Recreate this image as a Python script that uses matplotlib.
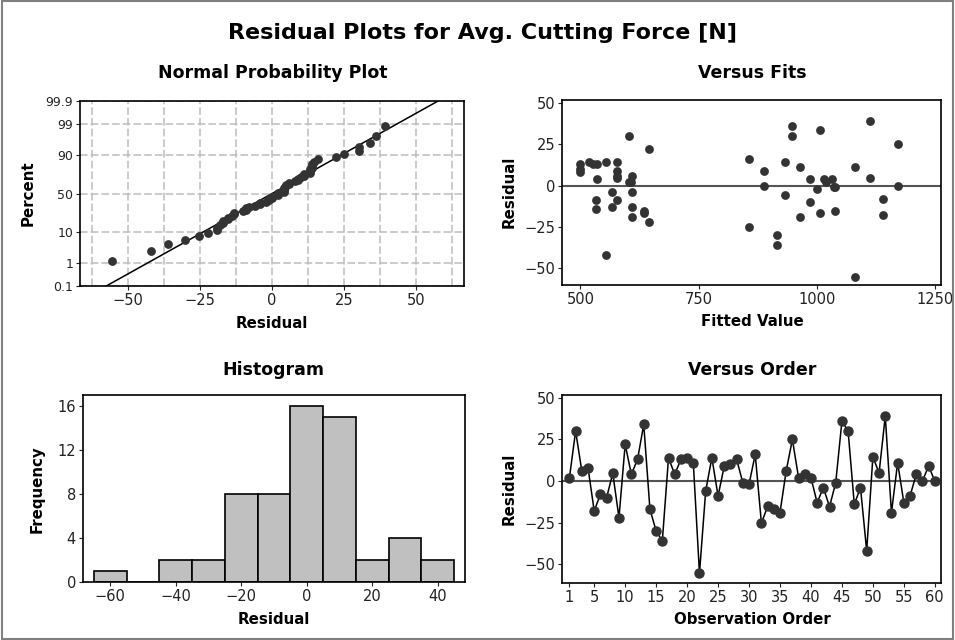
from statistics import NormalDist

import matplotlib
matplotlib.use('Agg')
import matplotlib.pyplot as plt
import numpy as np
from matplotlib.patches import Rectangle

# Residuals in observation order
residuals = [2, 30, 6, 8, -18, -8, -10, 4.6, -22, 22,
             4, 13, 34, -17, -30, -36, 14, 4, 13, 14,
             11, -55.5, -6, 14, -9, 9, 10, 13, -1, -2,
             16, -25.3, -15.3, -17, -19, 6, 25, 2, 4, 2,
             -13, -4, -15.4, -1, 36, 30, -14, -4, -42, 14.6,
             4.8, 39, -19, 11, -13, -9, 4, 0, 9, 0]

fitted = [602, 602, 609, 500, 1140, 1140, 986, 578, 644, 644,
          1032, 500, 1007, 1007, 916, 916, 578, 535, 527, 518,
          965, 1080, 933, 553, 532, 888, 500, 536, 1039, 1000,
          856, 856, 634, 634, 965, 578, 1171, 1018, 986, 606,
          609, 567, 1039, 1035, 947, 947, 532, 609, 553, 933,
          1111, 1111, 609, 1080, 567, 578, 1014, 888, 578, 1171]

observations = list(range(1, 61))
prob_ticks = [0.1, 1, 10, 50, 90, 99, 99.9]
hist_bins = [-65, -55, -45, -35, -25, -15, -5, 5, 15, 25, 35, 45]

DOT = '#333333'
plt.rcParams['font.family'] = 'DejaVu Sans'
plt.rcParams['axes.linewidth'] = 1.2
plt.rcParams['xtick.labelsize'] = 10.5
plt.rcParams['ytick.labelsize'] = 10.5
plt.rcParams['xtick.major.size'] = 3
plt.rcParams['ytick.major.size'] = 3
plt.rcParams['xtick.color'] = '#222222'
plt.rcParams['ytick.color'] = '#222222'

W, H = 955, 640
fig = plt.figure(figsize=(W / 100, H / 100), dpi=100)


def add_axes(left, top, right, bottom):
    return fig.add_axes([left / W, 1 - bottom / H, (right - left) / W, (bottom - top) / H])


ax_np = add_axes(80, 101, 464, 286)
ax_vf = add_axes(562, 100, 941, 285)
ax_hi = add_axes(83, 395, 465, 582)
ax_vo = add_axes(562, 395, 941, 583)

for ax in (ax_np, ax_vf, ax_hi, ax_vo):
    ax.tick_params(top=False, right=False, direction='out', pad=2)

# Normal probability plot
nd = NormalDist()
n = len(residuals)
res_sorted = np.sort(residuals)
z = [nd.inv_cdf((i - 0.3) / (n + 0.4)) for i in range(1, n + 1)]
mu, sd = np.mean(residuals), np.std(residuals, ddof=1)
zlim = nd.inv_cdf(0.999)
zline = np.array([-3.5, 3.5])
ax_np.plot(mu + sd * zline, zline, color='black', lw=1.1, zorder=3)
ax_np.scatter(res_sorted, z, s=40, color=DOT, zorder=4, linewidths=0)
ax_np.set_xlim(-66.5, 66.5)
ax_np.set_ylim(-zlim, zlim)
ax_np.set_xticks([-50, -25, 0, 25, 50])
ax_np.set_xticks(np.arange(-62.5, 63, 12.5), minor=True)
ax_np.tick_params(axis='x', which='minor', length=0)
ax_np.set_yticks([nd.inv_cdf(p / 100) for p in prob_ticks])
ax_np.set_yticklabels([f'{p:g}' for p in prob_ticks], fontsize=9)
ax_np.grid(True, which='both', axis='x', color='#bdbdbd', ls=(0, (5, 2)), lw=1.1)
ax_np.grid(True, which='major', axis='y', color='#bdbdbd', ls=(0, (5, 2)), lw=1.1)
ax_np.set_axisbelow(True)

# Versus fits
ax_vf.axhline(0, color='#555555', lw=1.5, zorder=2)
ax_vf.scatter(fitted, residuals, s=40, color=DOT, zorder=3, linewidths=0)
ax_vf.set_xlim(461, 1262)
ax_vf.set_ylim(-60.5, 52)
ax_vf.set_xticks([500, 750, 1000, 1250])
ax_vf.set_yticks([-50, -25, 0, 25, 50])

# Histogram
ax_hi.hist(residuals, bins=hist_bins, color='#c0c0c0', edgecolor='black', lw=1.2)
ax_hi.set_xlim(-68.3, 48.3)
ax_hi.set_ylim(0, 17)
ax_hi.set_xticks([-60, -40, -20, 0, 20, 40])
ax_hi.set_yticks([0, 4, 8, 12, 16])

# Versus order
ax_vo.axhline(0, color='#555555', lw=1.5, zorder=2)
ax_vo.plot(observations, residuals, color='black', lw=1.1, marker='o', ms=6.5,
           mfc=DOT, mec=DOT, zorder=3)
ax_vo.set_xlim(-0.2, 61)
ax_vo.set_ylim(-61.3, 51.7)
ax_vo.set_xticks([1, 5, 10, 15, 20, 25, 30, 35, 40, 45, 50, 55, 60])
ax_vo.set_yticks([-50, -25, 0, 25, 50])

# Titles and labels
bold = dict(fontweight='bold', ha='center', va='center')
fig.text(482 / W, 1 - 33 / H, 'Residual Plots for Avg. Cutting Force [N]', fontsize=16, **bold)
fig.text(273 / W, 1 - 73 / H, 'Normal Probability Plot', fontsize=12.5, **bold)
fig.text(752 / W, 1 - 73 / H, 'Versus Fits', fontsize=12.5, **bold)
fig.text(273 / W, 1 - 370 / H, 'Histogram', fontsize=12.5, **bold)
fig.text(752 / W, 1 - 370 / H, 'Versus Order', fontsize=12.5, **bold)

fig.text(272 / W, 1 - 323 / H, 'Residual', fontsize=10.8, **bold)
fig.text(752 / W, 1 - 322 / H, 'Fitted Value', fontsize=10.8, **bold)
fig.text(274 / W, 1 - 620 / H, 'Residual', fontsize=10.8, **bold)
fig.text(752 / W, 1 - 620 / H, 'Observation Order', fontsize=10.8, **bold)
fig.text(28 / W, 1 - 193 / H, 'Percent', fontsize=10.8, rotation=90, **bold)
fig.text(509 / W, 1 - 192 / H, 'Residual', fontsize=10.8, rotation=90, **bold)
fig.text(37 / W, 1 - 489 / H, 'Frequency', fontsize=10.8, rotation=90, **bold)
fig.text(509 / W, 1 - 489 / H, 'Residual', fontsize=10.8, rotation=90, **bold)

# Thin grey frame round the whole graph
fig.patches.append(Rectangle((0.002, 0.002), 0.996, 0.996, transform=fig.transFigure,
                             fill=False, edgecolor='#808080', lw=1.5))

fig.savefig('out.png', dpi=100)
